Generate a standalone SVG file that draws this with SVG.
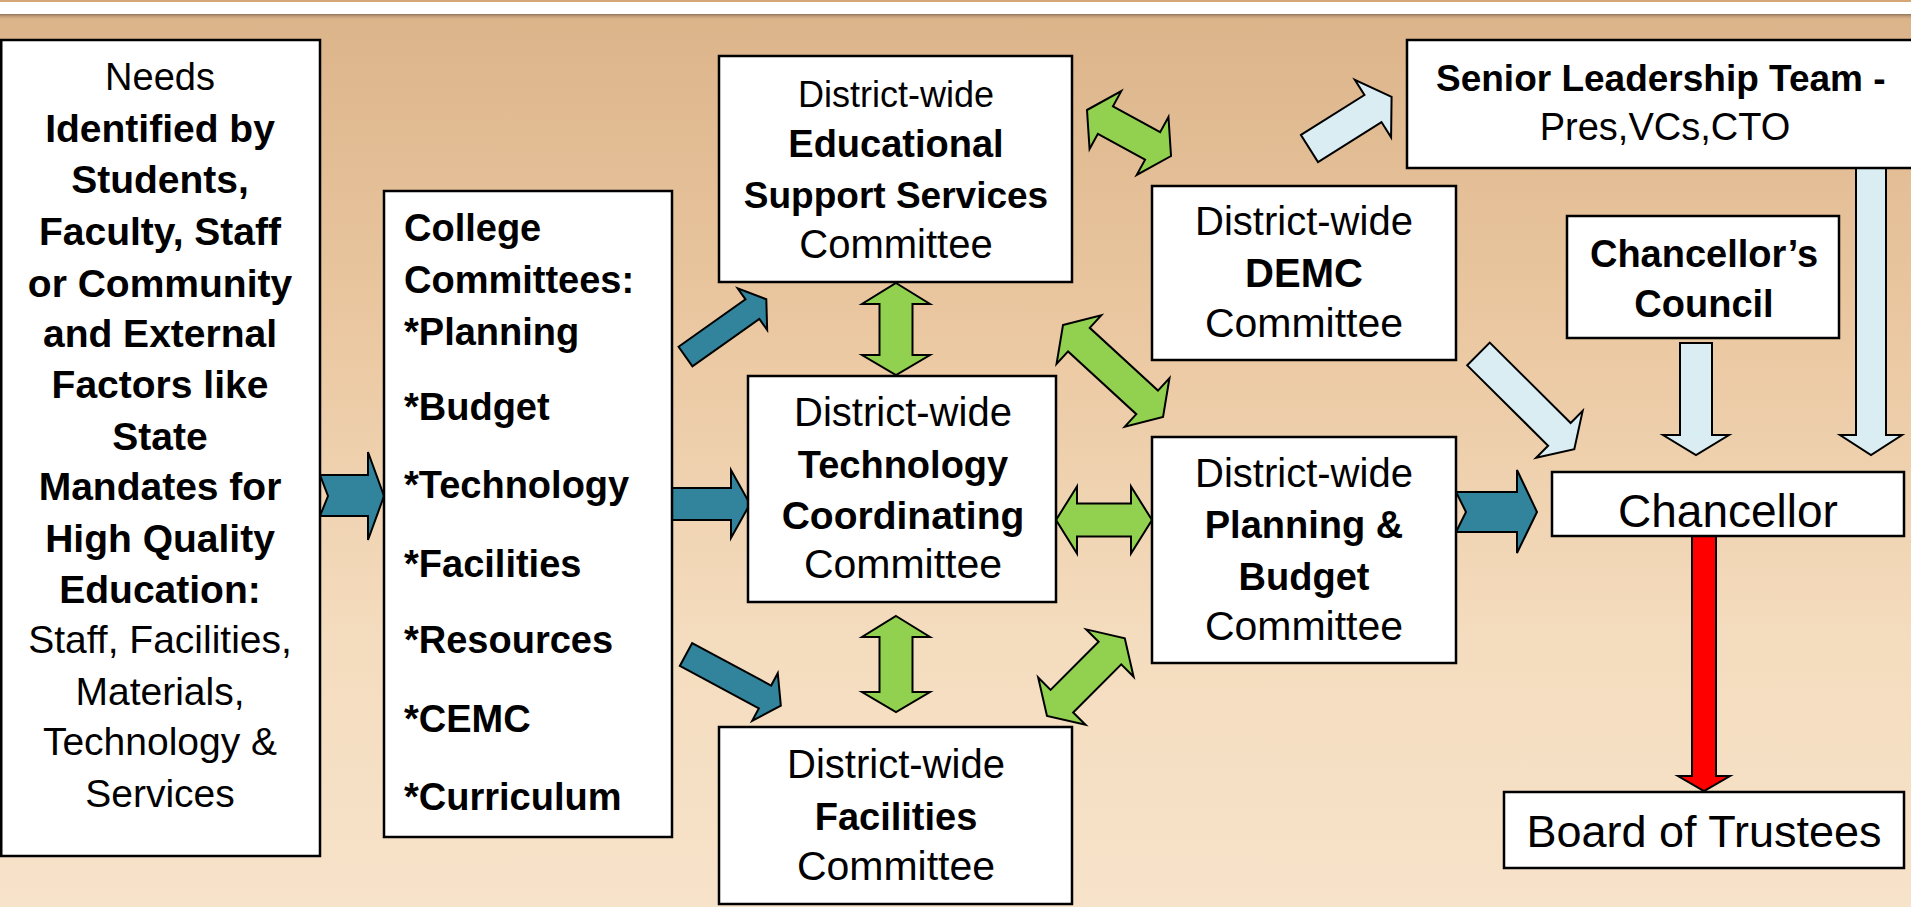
<svg xmlns="http://www.w3.org/2000/svg" width="1911" height="907" viewBox="0 0 1911 907">
<defs>
<linearGradient id="bg" x1="0" y1="0" x2="0" y2="1">
<stop offset="0" stop-color="#dbb389"/>
<stop offset="0.35" stop-color="#eac7a0"/>
<stop offset="0.7" stop-color="#f4dcbe"/>
<stop offset="1" stop-color="#f7e3ca"/>
</linearGradient>
<linearGradient id="sh" x1="0" y1="0" x2="0" y2="1">
<stop offset="0" stop-color="#8f7259"/>
<stop offset="1" stop-color="#dbb389" stop-opacity="0"/>
</linearGradient>
<style>
.box{fill:#fff;stroke:#000;stroke-width:2.5}
.t{font-family:"Liberation Sans",Arial,sans-serif;fill:#000}
.b{font-weight:bold}
.m{text-anchor:middle}
.teal{fill:#31849b;stroke:#000;stroke-width:2;stroke-linejoin:miter}
.lb{fill:#daedf3;stroke:#000;stroke-width:2;stroke-linejoin:miter}
.gr{fill:#92d050;stroke:#000;stroke-width:2;stroke-linejoin:miter}
.rd{fill:#ff0000;stroke:#000;stroke-width:2;stroke-linejoin:miter}
</style>
</defs>
<rect x="0" y="0" width="1911" height="907" fill="url(#bg)"/>
<rect x="0" y="0" width="1911" height="2" fill="#d6a676"/>
<rect x="0" y="2" width="1911" height="12" fill="#fff"/>
<rect x="0" y="14" width="1911" height="6" fill="url(#sh)"/>

<g id="connectors">
<polygon class="teal" points="320,475 368,475 368,452 384,496 368,540 368,516 320,516 328,496"/>
<polygon class="teal" points="672,488 731,488 731,470 750,504 731,538 731,520 672,520"/>
<polygon class="teal" points="1456,492 1517,492 1517,470 1537,512 1517,553 1517,532 1456,532 1466,512"/>
<polygon class="teal" transform="translate(685.5,356.5) rotate(-35.3)" points="0,-12 82,-12 82,-25.5 99,0 82,25.5 82,12 0,12"/>
<polygon class="teal" transform="translate(686,654.5) rotate(28.3)" points="0,-13 89.7,-13 89.7,-27 107.7,0 89.7,27 89.7,13 0,13"/>
<polygon class="lb" transform="translate(1309.5,148.5) rotate(-32.2)" points="0,-16 75,-16 75,-34 97,0 75,34 75,16 0,16"/>
<polygon class="lb" transform="translate(1478.5,354) rotate(44.8)" points="0,-16 114,-16 114,-33 135,0 114,33 114,16 0,16"/>
<polygon class="lb" points="1680,343 1712,343 1712,435 1729,435 1696,455 1663,435 1680,435"/>
<polygon class="lb" points="1856,168 1886,168 1886,435 1902,435 1871,455 1840,435 1856,435"/>
<polygon class="rd" points="1692,536 1716,536 1716,776 1730,776 1704,791 1678,776 1692,776"/>
<polygon class="gr" points="896,283 930,304 912.5,304 912.5,355 930,355 896,375 862,355 879.5,355 879.5,304 862,304"/>
<polygon class="gr" points="896,616 930,637 912.5,637 912.5,692 930,692 896,712 862,692 879.5,692 879.5,637 862,637"/>
<polygon class="gr" points="1056,520 1077,486.5 1077,503.5 1131,503.5 1131,486.5 1152,520 1131,553.5 1131,536.5 1077,536.5 1077,553.5"/>
<polygon class="gr" transform="translate(1087,110) rotate(28.7)" points="0,0 21,-33 21,-15.7 74.8,-15.7 74.8,-33 95.8,0 74.8,33 74.8,15.7 21,15.7 21,33"/>
<polygon class="gr" transform="translate(1063,325) rotate(42.6)" points="0,0 21.6,-33 21.6,-16 114.3,-16 114.3,-33 135.9,0 114.3,33 114.3,16 21.6,16 21.6,33"/>
<polygon class="gr" transform="translate(1047,716) rotate(-45)" points="0,0 21,-33.5 21,-16 89,-16 89,-33.5 110,0 89,33.5 89,16 21,16 21,33.5"/>
</g>

<g id="needs">
<rect class="box" x="1.25" y="40" width="318.75" height="816"/>
<g class="t m">
<text x="160" y="90" font-size="38">Needs</text>
<text class="b" x="160" y="142" font-size="39">Identified by</text>
<text class="b" x="160" y="193" font-size="39">Students,</text>
<text class="b" x="160" y="245" font-size="39">Faculty, Staff</text>
<text class="b" x="160" y="297" font-size="39">or Community</text>
<text class="b" x="160" y="347" font-size="39">and External</text>
<text class="b" x="160" y="398" font-size="39">Factors like</text>
<text class="b" x="160" y="450" font-size="39">State</text>
<text class="b" x="160" y="500" font-size="39">Mandates for</text>
<text class="b" x="160" y="552" font-size="39">High Quality</text>
<text class="b" x="160" y="603" font-size="39">Education:</text>
<text x="160" y="653" font-size="39">Staff, Facilities,</text>
<text x="160" y="705" font-size="39">Materials,</text>
<text x="160" y="755" font-size="39">Technology &amp;</text>
<text x="160" y="807" font-size="39">Services</text>
</g>
</g>

<g id="college">
<rect class="box" x="384" y="191" width="288" height="646"/>
<g class="t b" font-size="38">
<text x="404" y="241">College</text>
<text x="404" y="293">Committees:</text>
<text x="404" y="345">*Planning</text>
<text x="404" y="420">*Budget</text>
<text x="404" y="498">*Technology</text>
<text x="404" y="577">*Facilities</text>
<text x="404" y="653">*Resources</text>
<text x="404" y="732">*CEMC</text>
<text x="404" y="810">*Curriculum</text>
</g>
</g>

<g id="educational">
<rect class="box" x="719" y="56" width="353" height="226"/>
<g class="t m">
<text x="896" y="107" font-size="36">District-wide</text>
<text class="b" x="896" y="157" font-size="38">Educational</text>
<text class="b" x="896" y="208" font-size="37">Support Services</text>
<text x="896" y="258" font-size="40">Committee</text>
</g>
</g>

<g id="technology">
<rect class="box" x="748" y="376" width="308" height="226"/>
<g class="t m">
<text x="903" y="426" font-size="40">District-wide</text>
<text class="b" x="903" y="478" font-size="38">Technology</text>
<text class="b" x="903" y="529" font-size="39">Coordinating</text>
<text x="903" y="578" font-size="41">Committee</text>
</g>
</g>

<g id="facilities">
<rect class="box" x="719" y="727" width="353" height="177"/>
<g class="t m">
<text x="896" y="778" font-size="40">District-wide</text>
<text class="b" x="896" y="830" font-size="38">Facilities</text>
<text x="896" y="880" font-size="41">Committee</text>
</g>
</g>

<g id="demc">
<rect class="box" x="1152" y="186" width="304" height="174"/>
<g class="t m">
<text x="1304" y="235" font-size="40">District-wide</text>
<text class="b" x="1304" y="287" font-size="40">DEMC</text>
<text x="1304" y="337" font-size="41">Committee</text>
</g>
</g>

<g id="planning">
<rect class="box" x="1152" y="437" width="304" height="226"/>
<g class="t m">
<text x="1304" y="487" font-size="40">District-wide</text>
<text class="b" x="1304" y="538" font-size="38">Planning &amp;</text>
<text class="b" x="1304" y="590" font-size="38">Budget</text>
<text x="1304" y="640" font-size="41">Committee</text>
</g>
</g>

<g id="senior">
<rect class="box" x="1407" y="40" width="520" height="128"/>
<text class="t b" x="1436" y="91" font-size="37">Senior Leadership Team -</text>
<text class="t m" x="1665" y="140" font-size="38">Pres,VCs,CTO</text>
</g>

<g id="council">
<rect class="box" x="1567" y="216" width="272" height="122"/>
<g class="t b m" font-size="38">
<text x="1704" y="267">Chancellor’s</text>
<text x="1704" y="317">Council</text>
</g>
</g>

<g id="chancellor">
<rect class="box" x="1552" y="472" width="352" height="64"/>
<text class="t m" x="1728" y="527" font-size="46">Chancellor</text>
</g>

<g id="board">
<rect class="box" x="1504" y="792" width="400" height="76"/>
<text class="t m" x="1704" y="847" font-size="45">Board of Trustees</text>
</g>
</svg>
